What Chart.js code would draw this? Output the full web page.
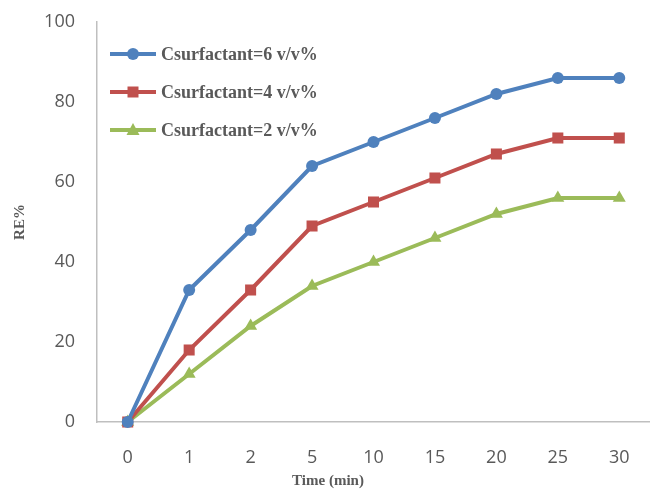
<!DOCTYPE html>
<html>
<head>
<meta charset="utf-8">
<script src="https://cdn.jsdelivr.net/npm/chart.js@4/dist/chart.umd.min.js"></script>
<style>
  html, body { margin: 0; padding: 0; background: #ffffff; }
  #wrap { width: 650px; height: 489px; }
</style>
</head>
<body>
<div id="wrap"><canvas id="reChart" width="650" height="489"></canvas></div>
<script>
const timeLabels = ["0", "1", "2", "5", "10", "15", "20", "25", "30"];
const re6 = [0, 33, 48, 64, 70, 76, 82, 86, 86];
const re4 = [0, 18, 33, 49, 55, 61, 67, 71, 71];
const re2 = [0, 12, 24, 34, 40, 46, 52, 56, 56];
const seriesNames = ["Csurfactant=6 v/v%", "Csurfactant=4 v/v%", "Csurfactant=2 v/v%"];
const xTitle = "Time (min)";
const yTitle = "RE%";

const textGrey = "#595959";
const axisGrey = "#BFBFBF";
const serifBold = "bold 15px 'Liberation Serif', 'Times New Roman', serif";

function drawMarker(ctx, style, x, y, color) {
  ctx.save();
  ctx.fillStyle = color;
  ctx.beginPath();
  if (style === "circle") {
    ctx.arc(x, y, 6, 0, Math.PI * 2);
  } else if (style === "rect") {
    ctx.rect(x - 5.5, y - 5.5, 11, 11);
  } else {
    ctx.moveTo(x, y - 7);
    ctx.lineTo(x + 6.5, y + 5);
    ctx.lineTo(x - 6.5, y + 5);
    ctx.closePath();
  }
  ctx.fill();
  ctx.restore();
}

// legend inside the plot (top-left) and the x title, drawn like the Excel original
const insideLegend = {
  id: "insideLegend",
  afterDraw(chart) {
    const ctx = chart.ctx;
    const area = chart.chartArea;
    chart.data.datasets.forEach((ds, i) => {
      const y = area.top + 32 + i * 38;
      const x0 = area.left + 13;
      ctx.save();
      ctx.strokeStyle = ds.borderColor;
      ctx.lineWidth = 4;
      ctx.beginPath();
      ctx.moveTo(x0, y);
      ctx.lineTo(x0 + 46, y);
      ctx.stroke();
      drawMarker(ctx, ds.pointStyle, x0 + 23, y, ds.borderColor);
      ctx.fillStyle = textGrey;
      ctx.font = "bold 18px 'Liberation Serif', 'Times New Roman', serif";
      ctx.textBaseline = "middle";
      ctx.fillText(ds.label, x0 + 51, y + 1);
      ctx.restore();
    });

    ctx.save();
    ctx.fillStyle = textGrey;
    ctx.font = serifBold;
    ctx.textAlign = "center";
    ctx.textBaseline = "middle";
    ctx.fillText(xTitle, 328, chart.height - 8);
    ctx.restore();
  }
};

function makeSet(label, values, color, style, radius) {
  return {
    label,
    data: values,
    borderColor: color,
    backgroundColor: color,
    borderWidth: 4,
    pointStyle: style,
    pointRadius: radius,
    pointHoverRadius: radius,
    pointBorderWidth: 0,
    tension: 0,
    clip: false
  };
}

new Chart(document.getElementById("reChart"), {
  type: "line",
  data: {
    labels: timeLabels,
    datasets: [
      makeSet(seriesNames[0], re6, "#4F81BD", "circle", 6),
      makeSet(seriesNames[1], re4, "#C0504D", "rect", 7.8),
      makeSet(seriesNames[2], re2, "#9BBB59", "triangle", 7.5)
    ]
  },
  options: {
    responsive: false,
    animation: false,
    layout: { autoPadding: false, padding: { top: 22, right: -5, left: 0, bottom: 0 } },
    plugins: {
      legend: { display: false },
      tooltip: { enabled: false }
    },
    scales: {
      x: {
        offset: true,
        grid: { display: false, drawTicks: false },
        border: { display: true, color: axisGrey, width: 1.5 },
        ticks: {
          color: textGrey,
          padding: 25,
          font: { family: "'Open Sans', 'Liberation Sans', sans-serif", size: 18 }
        },
        title: { display: false },
        afterFit(scale) {
          scale.height = 67;
          scale.paddingLeft = 0;
          scale.paddingRight = 0;
        }
      },
      y: {
        min: 0,
        max: 100,
        grid: { display: false, drawTicks: false },
        border: { display: true, color: axisGrey, width: 1.5 },
        ticks: {
          stepSize: 20,
          color: textGrey,
          padding: 22,
          font: { family: "'Open Sans', 'Liberation Sans', sans-serif", size: 18 }
        },
        title: {
          display: true,
          text: yTitle,
          color: textGrey,
          padding: { top: 11, bottom: 0 },
          font: { family: "'Liberation Serif', 'Times New Roman', serif", size: 15, weight: "bold" }
        },
        afterFit(scale) {
          scale.width = 97;
          scale.paddingTop = 0;
          scale.paddingBottom = 0;
        }
      }
    }
  },
  plugins: [insideLegend]
});
</script>
</body>
</html>
